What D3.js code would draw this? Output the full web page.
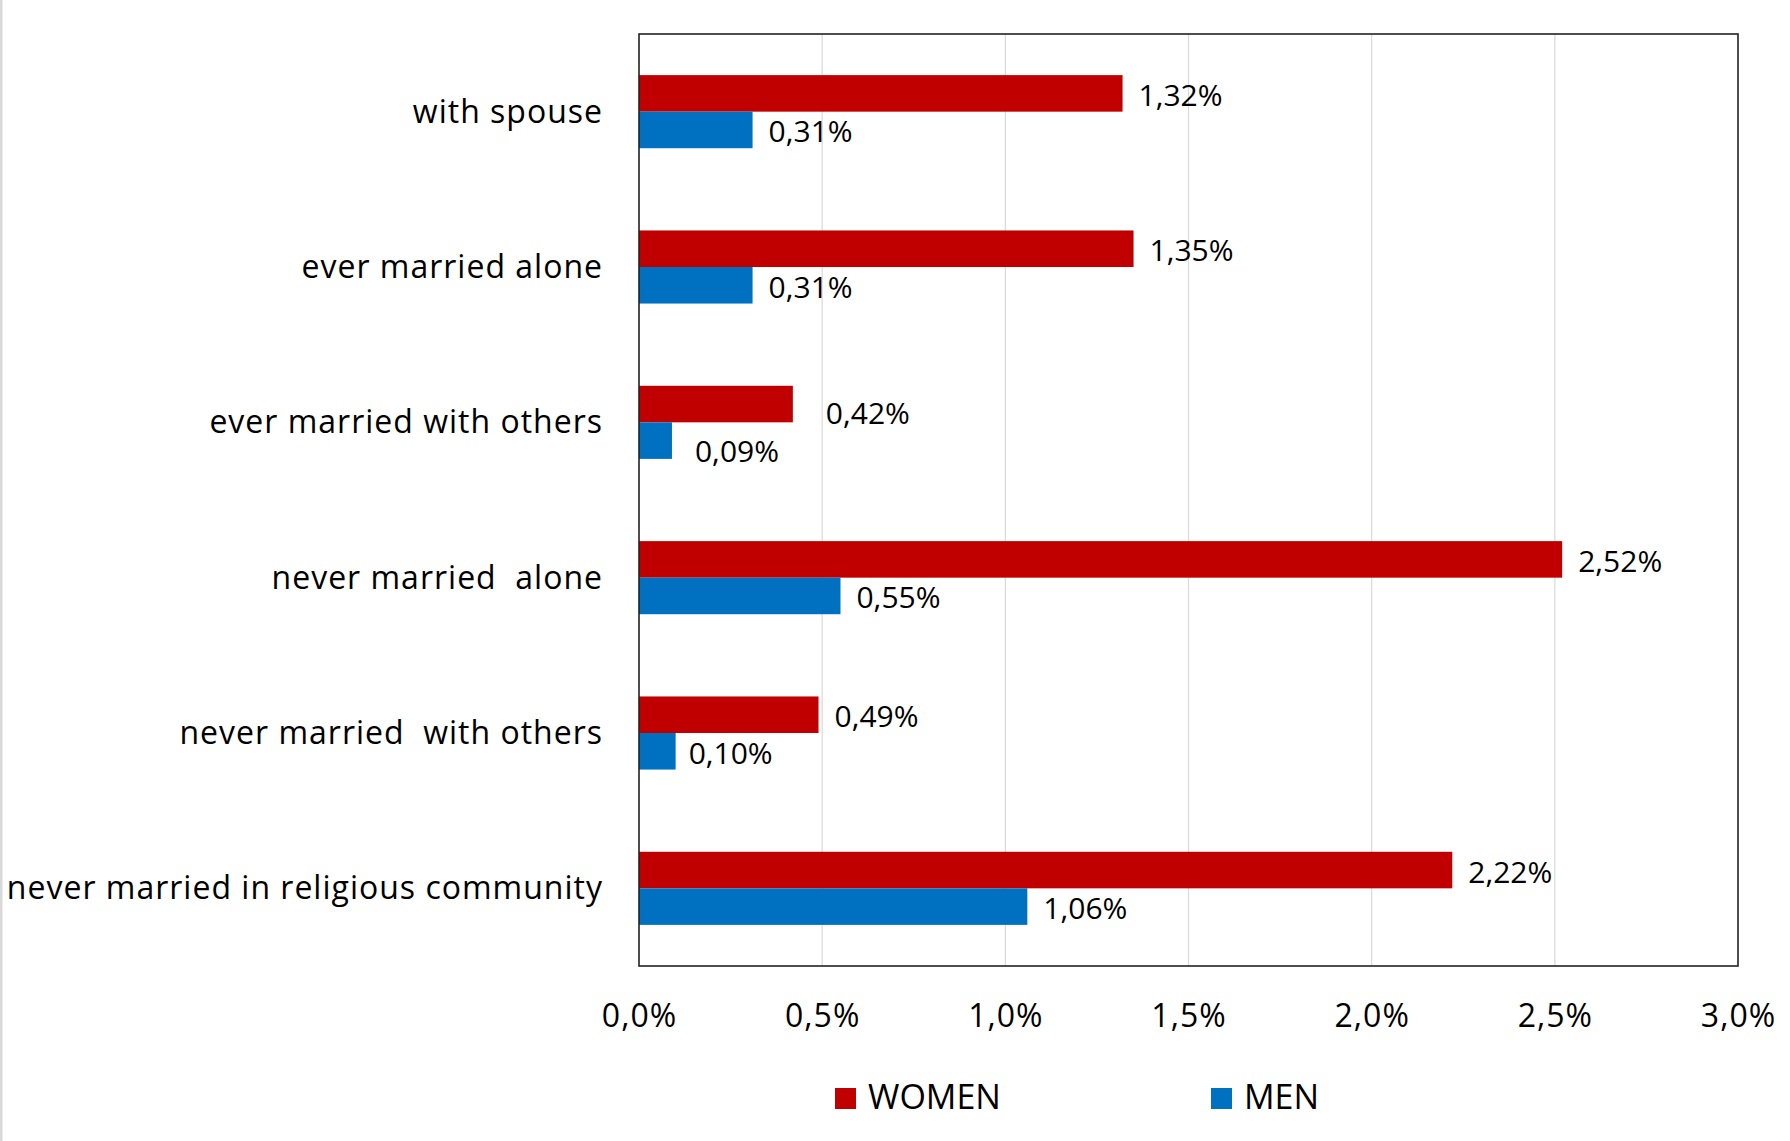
<!DOCTYPE html>
<html>
<head>
<meta charset="utf-8">
<script src="https://cdn.jsdelivr.net/npm/d3@7"></script>
<style>
  html, body { margin: 0; padding: 0; background: #fff; }
  svg { display: block; font-family: "Open Sans", "Noto Sans", sans-serif; }
  .cat { white-space: pre; }
</style>
</head>
<body>
<svg id="chart" width="1790" height="1141"></svg>
<script>
// ---- data ----
const categories = [
  "with spouse",
  "ever married alone",
  "ever married with others",
  "never married  alone",
  "never married  with others",
  "never married in religious community"
];
const women = [1.32, 1.35, 0.42, 2.52, 0.49, 2.22];
const men   = [0.31, 0.31, 0.09, 0.55, 0.10, 1.06];
const seriesNames = ["WOMEN", "MEN"];
const xTicks = [0, 0.5, 1.0, 1.5, 2.0, 2.5, 3.0];

// ---- layout ----
const W = 1790, H = 1141;
const plot = { left: 639, right: 1738, top: 34, bottom: 966 };
const colors = { WOMEN: "#C00000", MEN: "#0070C0" };
const fmt = (v, d) => v.toFixed(d).replace(".", ",") + "%";

const svg = d3.select("#chart");

// left gray border like the reference
svg.append("rect").attr("x", 0).attr("y", 0).attr("width", 2.5).attr("height", H).attr("fill", "#d9d9d9");

const x = d3.scaleLinear().domain([0, 3]).range([plot.left, plot.right]);
const y = d3.scaleBand().domain(categories).range([plot.top, plot.bottom]).paddingInner(0).paddingOuter(0);
const groupFrac = 2 / 4.25; // bars occupy this share of each band
const sub = d3.scaleBand().domain(seriesNames)
  .range([0, y.bandwidth() * groupFrac]);

// gridlines
svg.append("g").selectAll("line").data(xTicks.slice(1, -1)).join("line")
  .attr("x1", d => x(d)).attr("x2", d => x(d))
  .attr("y1", plot.top).attr("y2", plot.bottom)
  .attr("stroke", "#d9d9d9").attr("stroke-width", 1.2);

// bars
const rows = categories.map((c, i) => ({ c, i, vals: [{ s: "WOMEN", v: women[i] }, { s: "MEN", v: men[i] }] }));
const groupOffset = (y.bandwidth() - y.bandwidth() * groupFrac) / 2;

const g = svg.append("g").selectAll("g").data(rows).join("g")
  .attr("transform", d => `translate(0,${y(d.c) + groupOffset})`);

g.selectAll("rect").data(d => d.vals).join("rect")
  .attr("x", x(0))
  .attr("y", d => sub(d.s))
  .attr("width", d => x(d.v) - x(0))
  .attr("height", sub.bandwidth())
  .attr("fill", d => colors[d.s]);

// data labels (a couple were nudged in the original)
const nudge = { "2-WOMEN": [17, 7], "2-MEN": [7, 9], "4-MEN": [-3, 0] };
g.each(function(row) {
  d3.select(this).selectAll("text.lbl").data(row.vals).join("text")
    .attr("class", "lbl")
    .attr("x", d => x(d.v) + 16 + ((nudge[row.i + "-" + d.s] || [0, 0])[0]))
    .attr("y", d => sub(d.s) + sub.bandwidth() / 2 + 2 + ((nudge[row.i + "-" + d.s] || [0, 0])[1]))
    .attr("dy", "0.35em")
    .attr("font-size", 30)
    .attr("fill", "#000")
    .text(d => fmt(d.v, 2));
});

// category labels
svg.append("g").selectAll("text").data(categories).join("text")
  .attr("class", "cat")
  .attr("x", plot.left - 36)
  .attr("y", d => y(d) + y.bandwidth() / 2)
  .attr("dy", "0.34em")
  .attr("text-anchor", "end")
  .attr("font-size", 32)
  .attr("letter-spacing", 1)
  .attr("fill", "#000")
  .text(d => d);

// x axis tick labels
const xAxis = d3.axisBottom(x).tickValues(xTicks).tickSize(0).tickPadding(0).tickFormat(d => fmt(d, 1));
const ax = svg.append("g").attr("transform", `translate(0,${plot.bottom})`).call(xAxis);
ax.select(".domain").remove();
ax.selectAll("text")
  .attr("y", 61).attr("dy", 0)
  .attr("font-size", 32)
  .attr("letter-spacing", 1)
  .attr("font-family", "Open Sans, sans-serif")
  .attr("fill", "#000");

// plot frame
svg.append("rect")
  .attr("x", plot.left).attr("y", plot.top)
  .attr("width", plot.right - plot.left).attr("height", plot.bottom - plot.top)
  .attr("fill", "none").attr("stroke", "#222").attr("stroke-width", 1.6);

// legend
const legendX = [835, 1211];
const leg = svg.append("g").selectAll("g").data(seriesNames).join("g")
  .attr("transform", (d, i) => `translate(${legendX[i]},1088)`);
leg.append("rect").attr("width", 21).attr("height", 21).attr("fill", d => colors[d]);
leg.append("text").attr("x", 33).attr("y", 21).attr("font-size", 34).attr("fill", "#000").text(d => d);
</script>
</body>
</html>
